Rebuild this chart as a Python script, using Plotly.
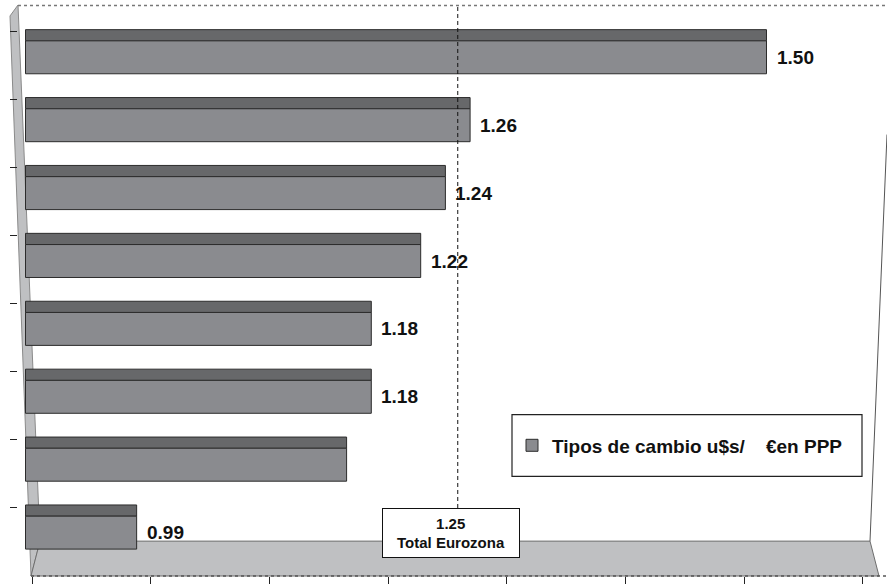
import plotly.graph_objects as go

# ---------------- data ----------------
positions = [0, 1, 2, 3, 4, 5, 6, 7]
values = [1.50, 1.26, 1.24, 1.22, 1.18, 1.18, 1.16, 0.99]
value_labels = ["1.50", "1.26", "1.24", "1.22", "1.18", "1.18", "", "0.99"]
axis_min = 0.9
x_ticks = [0.9, 1.0, 1.1, 1.2, 1.3, 1.4, 1.5, 1.6]
ref_value = 1.25
ref_label = "Total Eurozona"
series_name = "Tipos de cambio u$s/\u00a0\u00a0\u00a0\u00a0€en PPP"

# ---------------- layout helpers (pixel -> paper) ----------------
W, H = 887, 584
TOP, BOT = 5, 578


def px(x):
    return x / W


def py(y):
    return (BOT - y) / (BOT - TOP)


FONT = "Liberation Sans, Arial, sans-serif"
FRONT = "#8a8b8f"
TOPFACE = "#67686a"
EDGE = "#2c2c2c"
WALL = "#bfc0c2"

lengths = [v - axis_min for v in values]

fig = go.Figure()

# top (depth) face of the bars
fig.add_trace(go.Bar(
    orientation="h", y=positions, x=lengths, base=axis_min,
    width=0.165, offset=-0.2425 - 0.165,
    marker=dict(color=TOPFACE, line=dict(color=EDGE, width=1)),
    showlegend=False, hoverinfo="skip",
))
# front face of the bars
fig.add_trace(go.Bar(
    orientation="h", y=positions, x=lengths, base=axis_min,
    width=0.485, offset=-0.2425,
    marker=dict(color=FRONT, line=dict(color=EDGE, width=1)),
    name=series_name, showlegend=True,
))
# invisible trace carrying the front-plane tick axis
fig.add_trace(go.Scatter(x=[x_ticks[0], x_ticks[-1]], y=[0, 0], xaxis="x2",
                         mode="markers", marker=dict(opacity=0),
                         showlegend=False, hoverinfo="skip"))

annotations = []
for pos, v, lab in zip(positions, values, value_labels):
    if lab:
        annotations.append(dict(
            x=v, y=pos, xref="x", yref="y", text=lab, showarrow=False,
            xanchor="left", yanchor="middle", xshift=8,
            font=dict(family=FONT, size=19, color="#111111", weight="bold"),
        ))

annotations.append(dict(
    x=ref_value, y=py(535), xref="x", yref="paper",
    text=f"{ref_value:.2f}<br>{ref_label}", showarrow=False,
    xanchor="center", yanchor="middle", xshift=-7,
    width=132, height=44, borderpad=2, bordercolor="#111111", borderwidth=1,
    bgcolor="white", align="center",
    font=dict(family=FONT, size=15, color="#111111", weight="bold"),
))

shapes = [
    # left wall
    dict(type="path", xref="paper", yref="paper", layer="below",
         path=f"M{px(18)},{py(5)} L{px(10)},{py(16)} L{px(31)},{py(578)} L{px(40)},{py(543)} Z",
         fillcolor=WALL, line=dict(color="#8a8a8a", width=1)),
    # floor
    dict(type="path", xref="paper", yref="paper", layer="below",
         path=f"M{px(40)},{py(543)} L{px(870)},{py(543)} L{px(879)},{py(578)} L{px(31)},{py(578)} Z",
         fillcolor=WALL, line=dict(color="#6e6e6e", width=1)),
    # top border of back wall
    dict(type="line", xref="paper", yref="paper", layer="below",
         x0=px(18), x1=px(887), y0=py(5.5), y1=py(5.5),
         line=dict(color="#777777", width=1.5, dash="dot")),
    # right edge
    dict(type="line", xref="paper", yref="paper", layer="below",
         x0=px(870), x1=px(887), y0=py(543), y1=py(135),
         line=dict(color="#555555", width=1)),
    # bottom axis line
    dict(type="line", xref="paper", yref="paper", layer="above",
         x0=px(31), x1=px(887), y0=py(578), y1=py(578),
         line=dict(color="#555555", width=1.5, dash="dot")),
    # reference dashed line
    dict(type="line", xref="x", yref="paper", layer="above",
         x0=ref_value, x1=ref_value, y0=py(7), y1=py(510),
         line=dict(color="#111111", width=1, dash="4px,3px")),
    # legend frame
    dict(type="rect", xref="paper", yref="paper", layer="above",
         x0=px(512), x1=px(862), y0=py(478), y1=py(416),
         line=dict(color="#222222", width=1.2), fillcolor="rgba(0,0,0,0)"),
]

fig.update_layout(
    width=W, height=H,
    margin=dict(l=0, r=0, t=TOP, b=H - BOT, pad=0),
    paper_bgcolor="white", plot_bgcolor="white",
    barmode="overlay",
    font=dict(family=FONT, color="#111111"),
    showlegend=True,
    legend=dict(x=px(512), y=py(447), xanchor="left", yanchor="middle",
                bgcolor="rgba(0,0,0,0)", borderwidth=0,
                font=dict(family=FONT, size=19, color="#111111", weight="bold")),
    xaxis=dict(range=[1086 / 1235, (W + 1086) / 1235], visible=False,
               showgrid=False, zeroline=False),
    xaxis2=dict(range=[0.9 - 32 / 1187.1, 0.9 + (W - 32) / 1187.1],
                overlaying="x", anchor="y", side="bottom",
                tickvals=x_ticks, ticks="outside", ticklen=8, tickwidth=1,
                tickcolor="#222222", showticklabels=False, showline=False,
                showgrid=False, zeroline=False),
    yaxis=dict(range=[(BOT - 57.5) / 68.14, (TOP - 57.5) / 68.14],
               tickvals=[p - 0.375 for p in positions], ticks="outside",
               ticklen=7, tickwidth=1, tickcolor="#222222",
               showticklabels=False, showgrid=False, zeroline=False,
               showline=False, anchor="free", position=px(17)),
    annotations=annotations,
    shapes=shapes,
)

fig.write_html("out.html")
